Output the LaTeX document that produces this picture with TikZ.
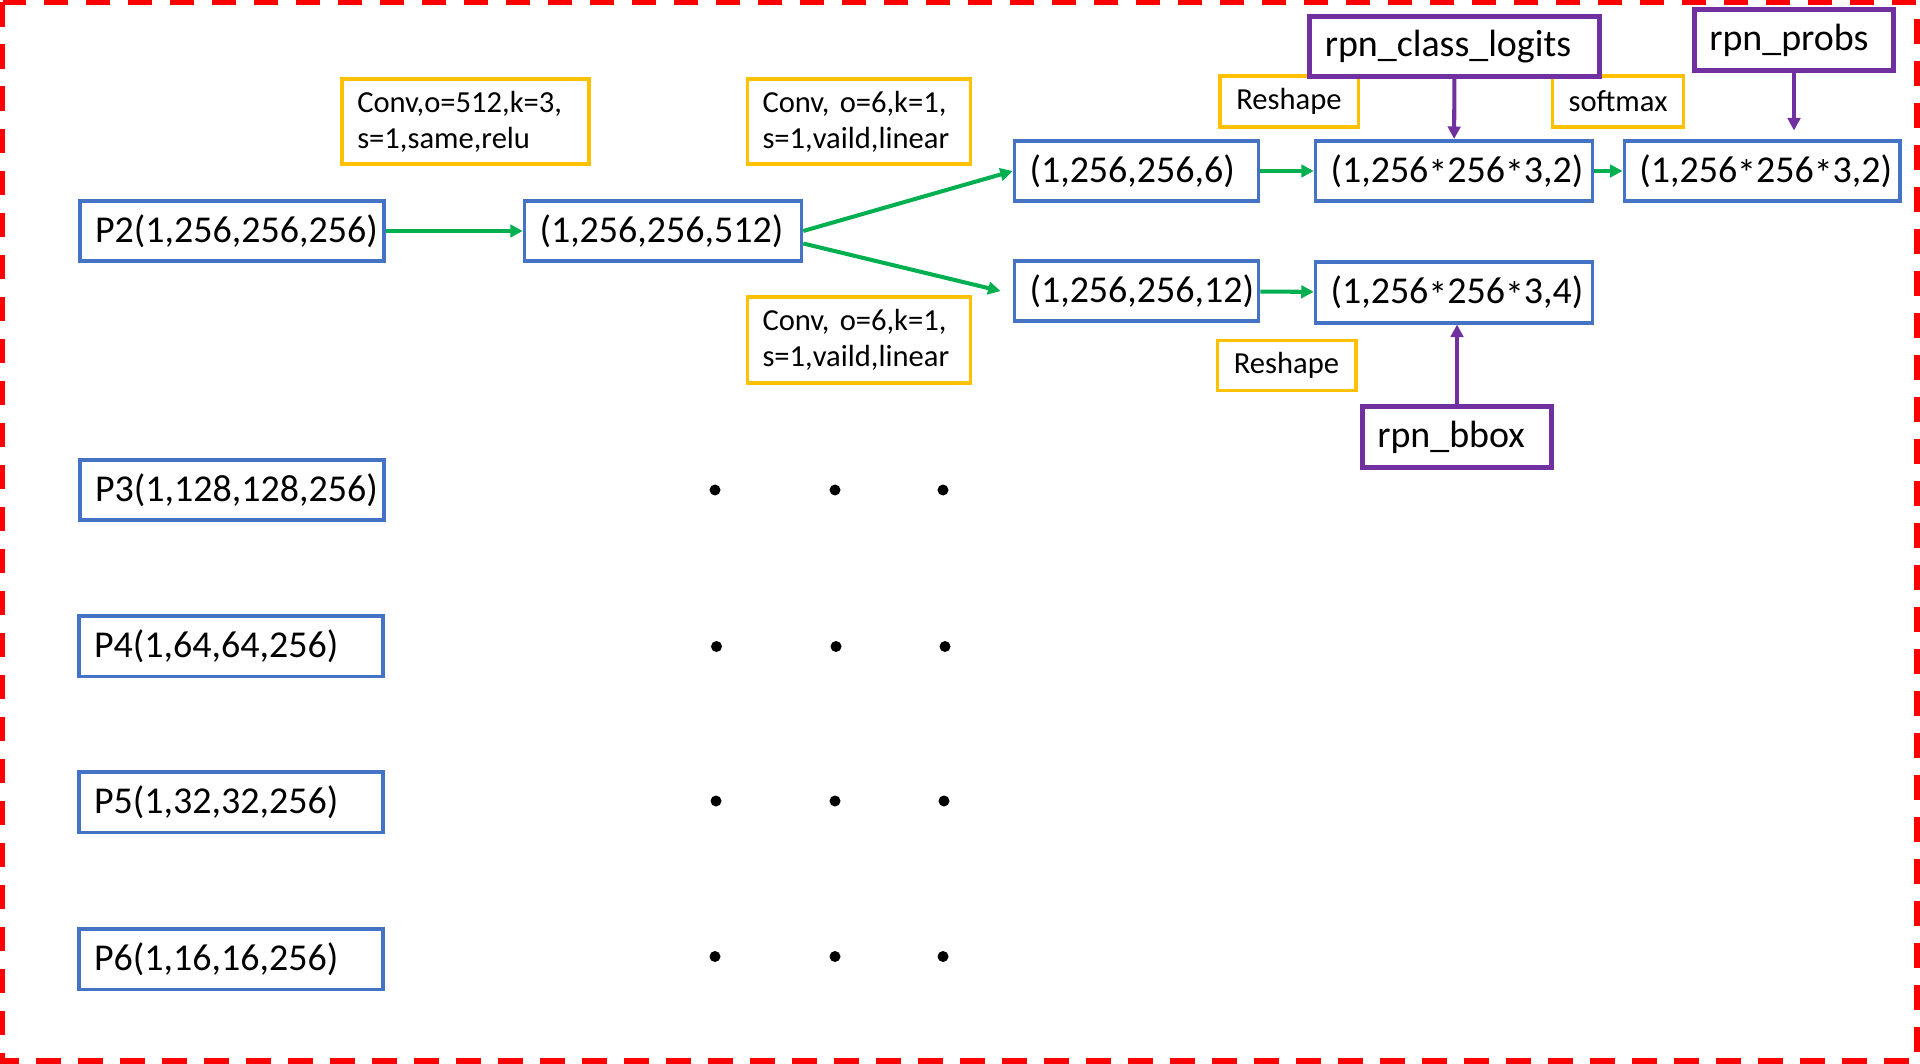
\documentclass[tikz,border=0pt]{standalone}
\usepackage{fontspec}
\setmainfont{Carlito}
\usetikzlibrary{arrows.meta}
\definecolor{boxblue}{RGB}{68,114,196}
\definecolor{opyellow}{RGB}{255,192,0}
\definecolor{namepurple}{RGB}{112,48,160}
\definecolor{flowgreen}{RGB}{0,176,80}
\newcommand{\tms}{\raisebox{-0.25ex}{*}}

\begin{document}
\begin{tikzpicture}[
        shapebox/.style={rectangle, draw=boxblue, line width=2pt, minimum height=1.21cm, inner xsep=0.3cm, align=left, font=\fontsize{21.6}{26}\selectfont},
        namebox/.style={rectangle, draw=namepurple, line width=2.6pt, minimum height=1.21cm, inner xsep=0.3cm, align=left, font=\fontsize{21.6}{26}\selectfont},
        opbox/.style={rectangle, draw=opyellow, line width=2pt, inner xsep=0.3cm, font=\fontsize{17.4}{20.6}\selectfont},
        flow/.style={-{Triangle[length=0.25cm, width=0.25cm]}, draw=flowgreen, line width=2.3pt},
        link/.style={-{Triangle[length=0.25cm, width=0.25cm]}, draw=namepurple, line width=2.3pt}]
        \useasboundingbox (0,0) rectangle (38.4,-21.28);
        % Frame
        \draw[red, line width=2.9pt, dash pattern=on 0.49cm off 0.35cm] (0.05,-0.05) rectangle (38.34,-21.22);

        % Feature maps
        \node[shapebox, text width=5.48cm] (p2) at (4.64,-4.62) {P2(1,256,256,256)};
        \node[shapebox, text width=5.48cm] (p3) at (4.64,-9.80) {P3(1,128,128,256)};
        \node[shapebox, text width=5.48cm] (p4) at (4.62,-12.92) {P4(1,64,64,256)};
        \node[shapebox, text width=5.48cm] (p5) at (4.62,-16.04) {P5(1,32,32,256)};
        \node[shapebox, text width=5.48cm] (p6) at (4.62,-19.18) {P6(1,16,16,256)};

        % Shapes of the head
        \node[shapebox, text width=4.94cm] (feat512) at (13.26,-4.62) {(1,256,256,512)};
        \node[shapebox, text width=4.28cm] (cls6) at (22.73,-3.42) {(1,256,256,6)};
        \node[shapebox, text width=4.28cm] (box12) at (22.73,-5.82) {(1,256,256,12)};
        \node[shapebox, text width=4.94cm] (cls32) at (29.08,-3.42) {(1,256\tms256\tms3,2)};
        \node[shapebox, text width=4.91cm] (prob32) at (35.24,-3.42) {(1,256\tms256\tms3,2)};
        \node[shapebox, text width=4.94cm] (box34) at (29.08,-5.85) {(1,256\tms256\tms3,4)};

        % Operations
        \node[opbox, text width=4.33cm, minimum height=1.71cm, align=left] (conv512) at (9.31,-2.43) {Conv,o=512,k=3,\\s=1,same,relu};
        \node[opbox, text width=3.86cm, minimum height=1.71cm, align=left] (convcls) at (17.18,-2.43) {Conv, o=6,k=1,\\s=1,vaild,linear};
        \node[opbox, text width=3.86cm, minimum height=1.71cm, align=left] (convbox) at (17.18,-6.80) {Conv, o=6,k=1,\\s=1,vaild,linear};
        \node[opbox, minimum width=2.77cm, minimum height=1.03cm] (reshape1) at (25.78,-2.03) {Reshape};
        \node[opbox, minimum width=2.62cm, minimum height=1.03cm] (softmax) at (32.36,-2.03) {softmax};
        \node[opbox, minimum width=2.77cm, minimum height=1.0cm] (reshape2) at (25.73,-7.31) {Reshape};

        % Outputs
        \node[namebox, text width=5.19cm] (logits) at (29.09,-0.93) {rpn\_class\_logits};
        \node[namebox, text width=3.39cm] (probs) at (35.88,-0.80) {rpn\_probs};
        \node[namebox, text width=3.19cm] (bbox) at (29.14,-8.74) {rpn\_bbox};

        % Draw connections
        \draw[flow] (p2) -- (feat512);
        \draw[flow] (feat512.east) -- (cls6.west);
        \draw[flow, shorten >=0.25cm] ([yshift=-0.25cm]feat512.east) -- ([yshift=-0.06cm]box12.west);
        \draw[flow] (cls6) -- (cls32);
        \draw[flow] (cls32) -- (prob32);
        \draw[flow] (box12) -- (box34);
        \draw[link] (logits) -- (cls32);
        \draw[link, shorten >=0.17cm] (probs.south) -- (probs.south |- prob32.north);
        \draw[link] (bbox.north) -- (bbox.north |- box34.south);

        % Dots
        \fill (14.30,-9.80) circle (0.11);
        \fill (16.70,-9.80) circle (0.11);
        \fill (18.86,-9.80) circle (0.11);
        \fill (14.33,-12.93) circle (0.11);
        \fill (16.72,-12.93) circle (0.11);
        \fill (18.90,-12.93) circle (0.11);
        \fill (14.32,-16.02) circle (0.11);
        \fill (16.70,-16.02) circle (0.11);
        \fill (18.88,-16.02) circle (0.11);
        \fill (14.30,-19.13) circle (0.11);
        \fill (16.70,-19.13) circle (0.11);
        \fill (18.86,-19.13) circle (0.11);
    \end{tikzpicture}
\end{document}
